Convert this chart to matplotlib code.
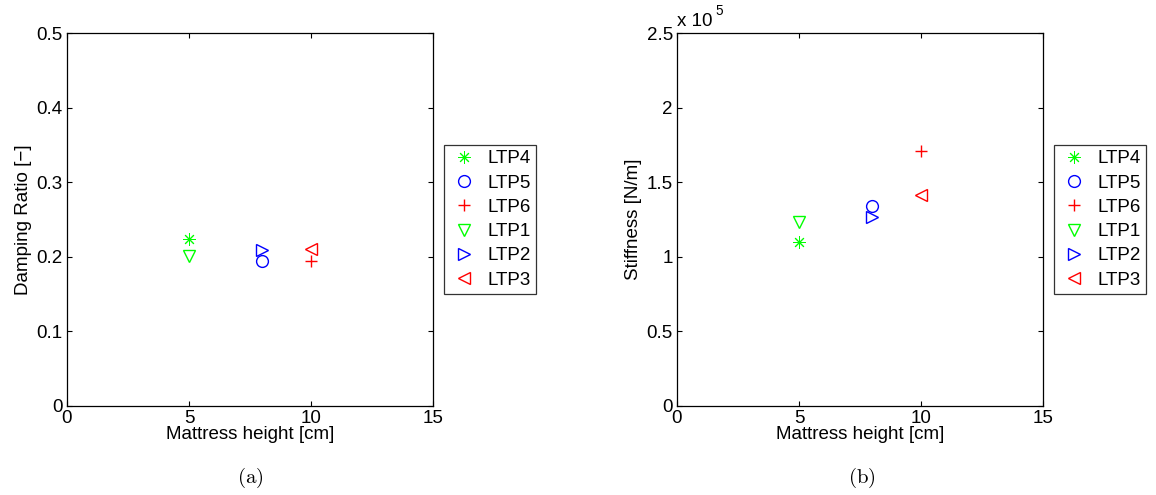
import matplotlib
matplotlib.use("Agg")
import matplotlib.pyplot as plt

plt.rcParams['font.family'] = ['Liberation Sans', 'DejaVu Sans']
plt.rcParams['mathtext.fontset'] = 'cm'

labels = ["LTP4", "LTP5", "LTP6", "LTP1", "LTP2", "LTP3"]
heights = [5, 8, 10, 5, 8, 10]
damping = [0.224, 0.194, 0.194, 0.201, 0.209, 0.210]
stiffness = [1.10e5, 1.34e5, 1.71e5, 1.233e5, 1.27e5, 1.414e5]
markers = [(8, 2, 0), "o", "+", "v", ">", "<"]
colors = ["#00ff00", "#0000ff", "#ff0000", "#00ff00", "#0000ff", "#ff0000"]
xticks = [0, 5, 10, 15]

FS = 13.5

fig = plt.figure(figsize=(11.56, 4.95), dpi=100)
W, H = 1156, 495
axL = fig.add_axes([67 / W, (495 - 406) / H, 366 / W, 373 / H])
axR = fig.add_axes([677 / W, (495 - 406) / H, 366 / W, 373 / H])

def style(ax):
    ax.set_xlim(0, 15)
    ax.set_xticks(xticks)
    ax.tick_params(direction='in', top=True, right=True, labelsize=FS, length=3.5, width=0.8, pad=3)
    for s in ax.spines.values():
        s.set_linewidth(0.9)
    ax.set_xlabel("Mattress height [cm]", fontsize=FS, labelpad=-1)

for i in range(len(labels)):
    is_ast = isinstance(markers[i], tuple)
    filled = markers[i] == "+" or is_ast
    ms = 9 if filled else 8.5
    mew = 0.7 if is_ast else 1.0
    for ax, vals in ((axL, damping), (axR, stiffness)):
        if filled:
            ax.plot(heights[i], vals[i], linestyle='none', marker=markers[i], color=colors[i],
                    markersize=ms, markeredgewidth=mew, label=labels[i])
        else:
            ax.plot(heights[i], vals[i], linestyle='none', marker=markers[i], markerfacecolor='none',
                    markeredgecolor=colors[i], markersize=ms, markeredgewidth=mew, label=labels[i])

style(axL)
axL.set_ylim(0, 0.5)
axL.set_yticks([0, 0.1, 0.2, 0.3, 0.4, 0.5])
axL.set_yticklabels(["0", "0.1", "0.2", "0.3", "0.4", "0.5"])
axL.set_ylabel("Damping Ratio [\u2212]", fontsize=FS, labelpad=3)

style(axR)
axR.set_ylim(0, 2.5e5)
axR.set_yticks([0, 0.5e5, 1e5, 1.5e5, 2e5, 2.5e5])
axR.set_yticklabels(["0", "0.5", "1", "1.5", "2", "2.5"])
axR.set_ylabel("Stiffness [N/m]", fontsize=FS, labelpad=3)
axR.text(0.0, 1.008, "x 10", transform=axR.transAxes, fontsize=FS, ha='left', va='bottom')
axR.text(0.105, 1.04, "5", transform=axR.transAxes, fontsize=FS * 0.72, ha='left', va='bottom')

for ax in (axL, axR):
    leg = ax.legend(loc='center left', bbox_to_anchor=(1.03, 0.5), fontsize=FS, frameon=True,
                    fancybox=False, edgecolor='black', handlelength=1.5, handletextpad=0.5,
                    borderpad=0.3, labelspacing=0.38, borderaxespad=0)
    leg.get_frame().set_linewidth(0.9)

fig.text(250 / W, 1 - 478 / H, r"$\mathrm{(a)}$", ha='center', va='center', fontsize=15)
fig.text(862 / W, 1 - 478 / H, r"$\mathrm{(b)}$", ha='center', va='center', fontsize=15)

fig.savefig("out.png", dpi=100)
